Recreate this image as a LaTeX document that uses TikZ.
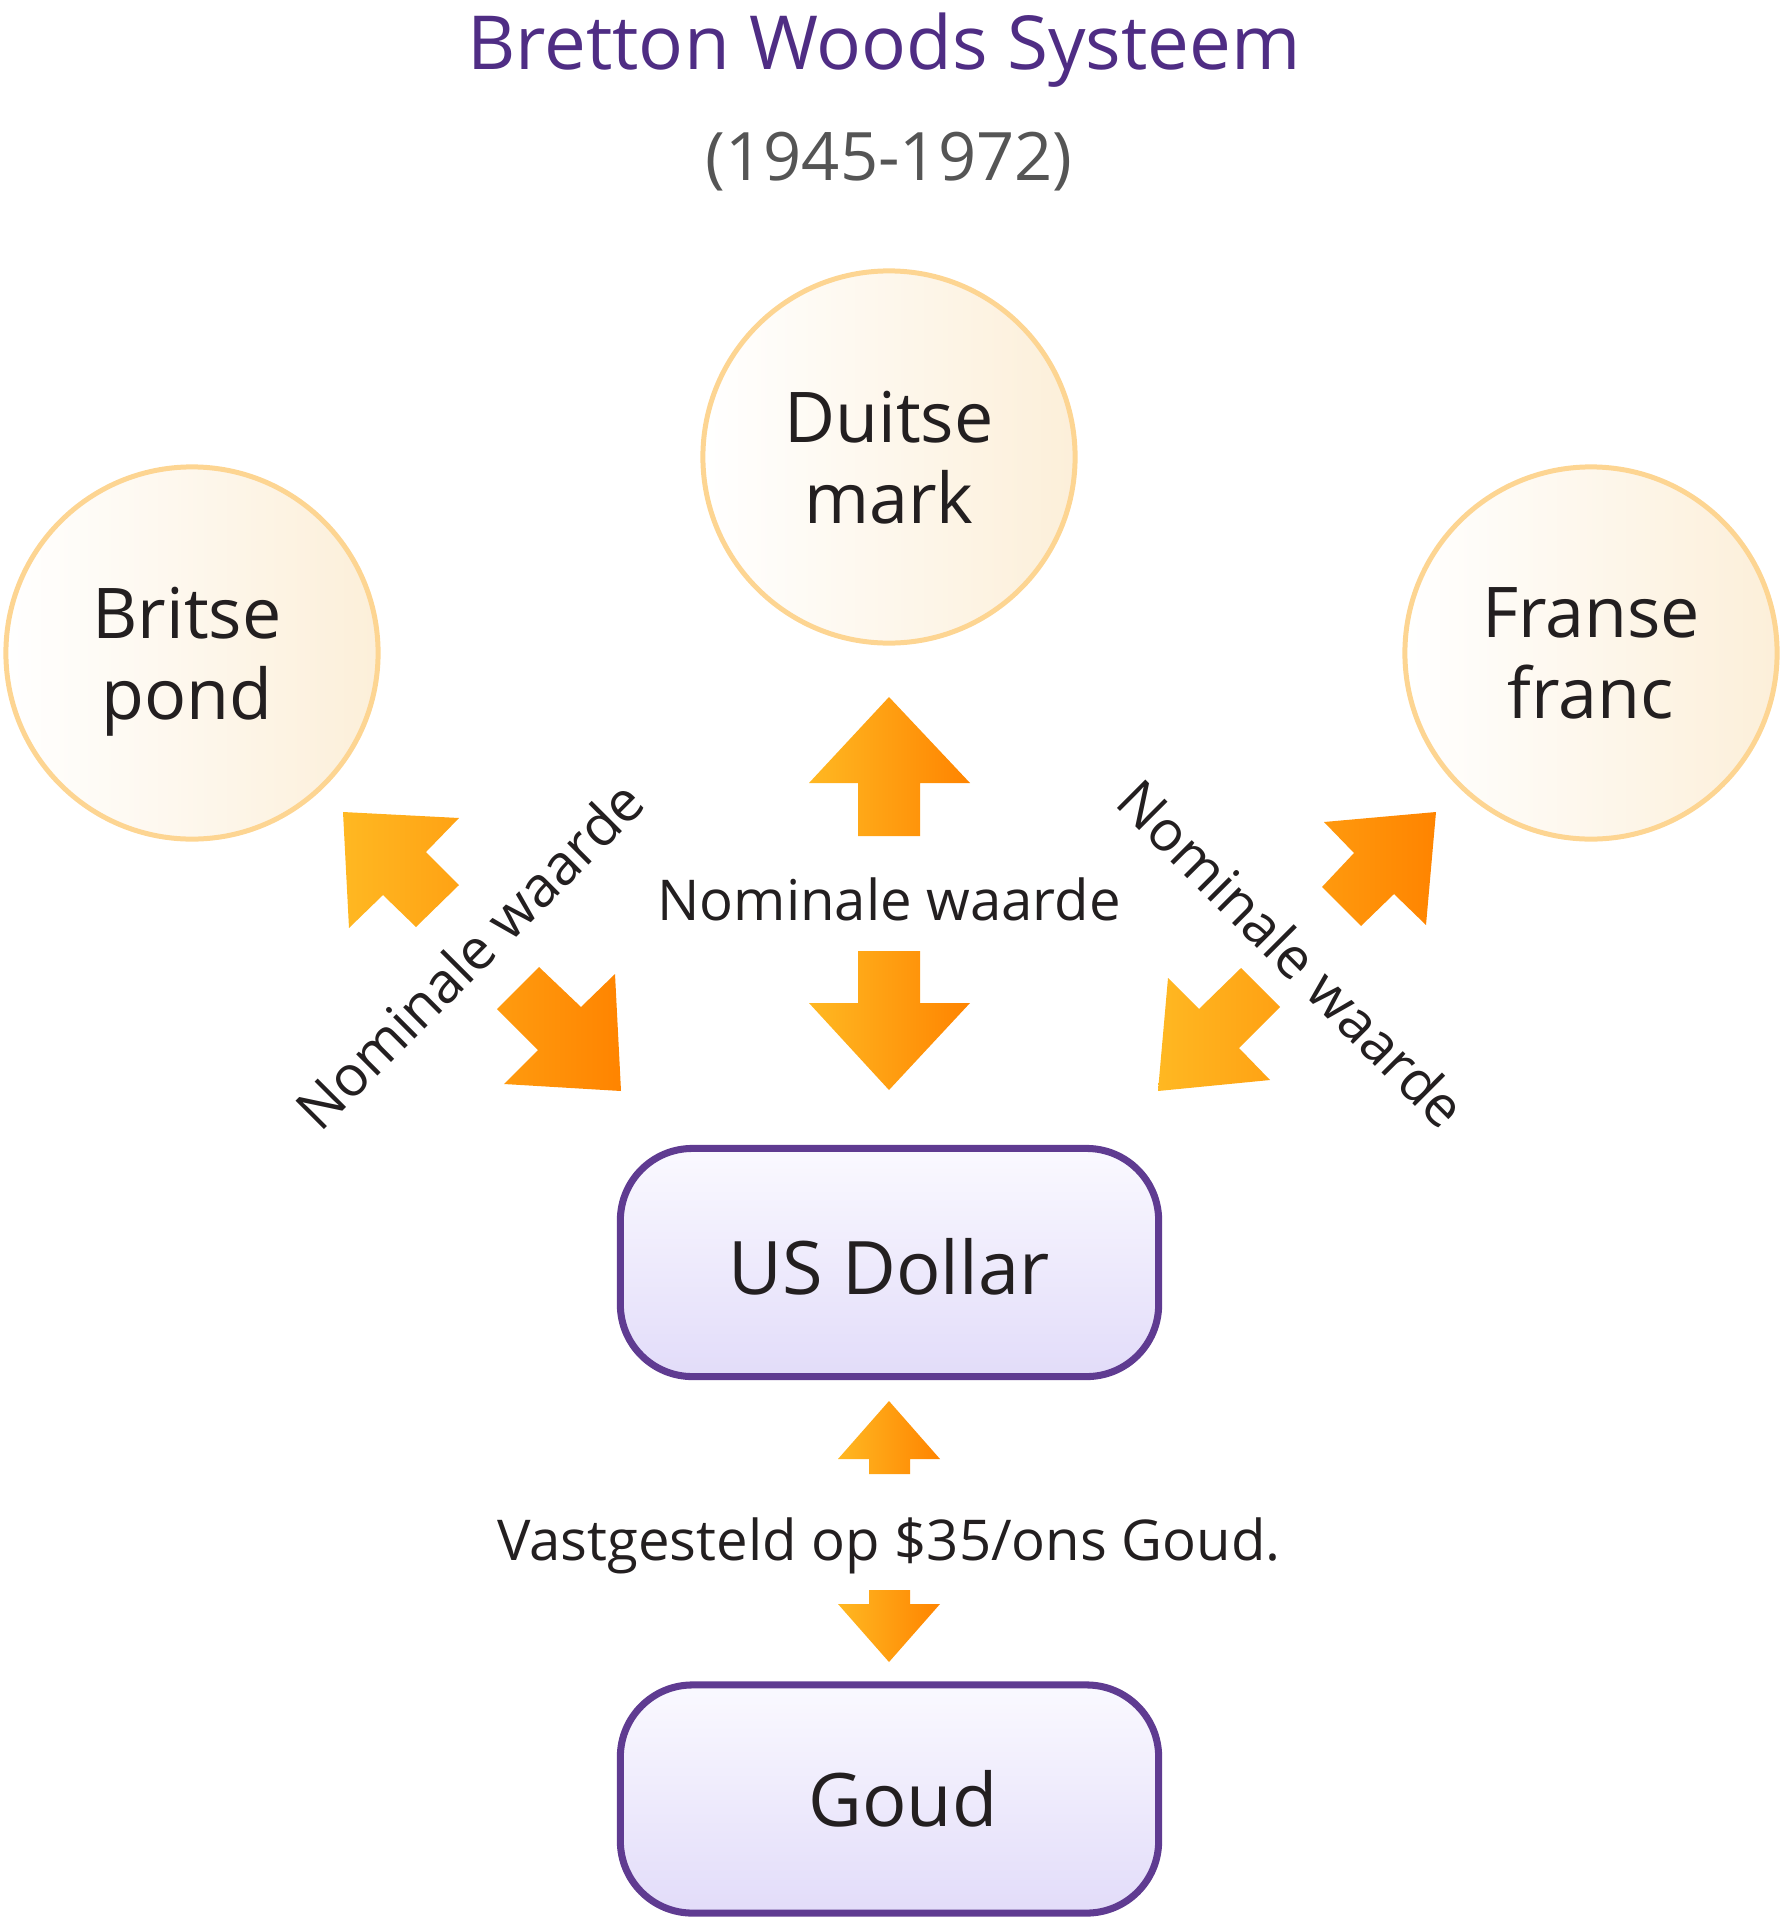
\documentclass[tikz,border=0pt]{standalone}
\usepackage{fontspec}
\setmainfont{Open Sans}
\definecolor{titlepurple}{HTML}{4F2D84}
\definecolor{subgrey}{HTML}{555555}
\definecolor{txt}{HTML}{231F20}
\definecolor{coinstroke}{HTML}{FDD592}
\definecolor{coinright}{HTML}{FCEFD9}
\definecolor{boxstroke}{HTML}{5F3B91}
\definecolor{boxtop}{HTML}{FAF9FF}
\definecolor{boxbottom}{HTML}{E2DCF9}
\definecolor{arrowL}{HTML}{FFB822}
\definecolor{arrowR}{HTML}{FF8400}
\tikzset{
  coin/.style={circle, draw=coinstroke, line width=1.42pt, minimum size=3.72cm,
    left color=white, right color=coinright, inner sep=0pt},
  cointext/.style={align=center, text=txt, font=\fontsize{19.9}{23}\selectfont,
    text depth=0pt, inner sep=0pt},
  valbox/.style={rectangle, rounded corners=0.72cm, draw=boxstroke, line width=2pt,
    minimum width=5.38cm, minimum height=2.28cm, top color=boxtop, bottom color=boxbottom},
  boxtext/.style={text=txt, font=\fontsize{21}{26}\selectfont, inner sep=0pt, anchor=base},
  lbl/.style={text=txt, font=\fontsize{16}{19}\selectfont, inner sep=0pt},
  fatarrow/.style={left color=arrowL, right color=arrowR, draw=none},
}
\begin{document}
\begin{tikzpicture}[x=0.01cm, y=-0.01cm]
\useasboundingbox (0,0) rectangle (1783,1918);
% titles
\node[text=titlepurple, font=\fontsize{21.2}{26}\selectfont, anchor=base, inner sep=0pt] (title) at (884,70) {Bretton Woods Systeem};
\node[text=subgrey, font=\fontsize{19}{23}\selectfont, anchor=base, inner sep=0pt] (years) at (889,180) {(1945-1972)};
% coins
\node[coin] (dm) at (889,457) {};
\node[cointext] (dmt) at (dm.center) {Duitse\\mark};
\node[coin] (bp) at (192,653) {};
\node[cointext, xshift=-0.05cm] (bpt) at (bp.center) {Britse\\pond};
\node[coin] (ff) at (1591,653) {};
\node[cointext] (fft) at (ff.center) {Franse\\franc};
% boxes
\node[valbox] (usd) at (889.5,1262.5) {};
\node[boxtext] (usdt) at (889,1294) {US Dollar};
\node[valbox] (gold) at (889.5,1799) {};
\node[boxtext] (goldt) at (903,1826) {Goud};
% labels
\node[lbl, anchor=base] (nmid) at (889,920) {Nominale waarde};
\node[lbl, rotate=45] (nleft) at (469,955) {Nominale waarde};
\node[lbl, rotate=-45] (nright) at (1292,953) {Nominale waarde};
\node[lbl, anchor=base] (fixed) at (889,1560) {Vastgesteld op \$35/ons Goud.};
% arrows (pairs share one gradient)
\path[fatarrow] (343,812) -- (459,818) -- (426,852) -- (459,885) -- (416,927) -- (383,895) -- (349,928) -- cycle
  (621,1091) -- (504,1084) -- (538,1050) -- (497,1009) -- (539,967) -- (581,1007) -- (615,974) -- cycle;
\path[fatarrow] (1436,812) -- (1324,822) -- (1354,853) -- (1322,887) -- (1361,926) -- (1394,894) -- (1426,925) -- cycle
  (1158,1091) -- (1168,978) -- (1199,1009) -- (1241,968) -- (1280,1007) -- (1239,1048) -- (1270,1080) -- cycle;
\path[fatarrow] (889,697) -- (970,783) -- (920,783) -- (920,836) -- (858,836) -- (858,783) -- (809,783) -- cycle
  (858,951) -- (920,951) -- (920,1003) -- (970,1003) -- (889,1090) -- (809,1003) -- (858,1003) -- cycle;
\path[fatarrow] (889,1401) -- (940,1459) -- (910,1459) -- (910,1474) -- (869,1474) -- (869,1459) -- (838,1459) -- cycle
  (869,1590) -- (910,1590) -- (910,1604) -- (940,1604) -- (889,1662) -- (838,1604) -- (869,1604) -- cycle;
\end{tikzpicture}
\end{document}
